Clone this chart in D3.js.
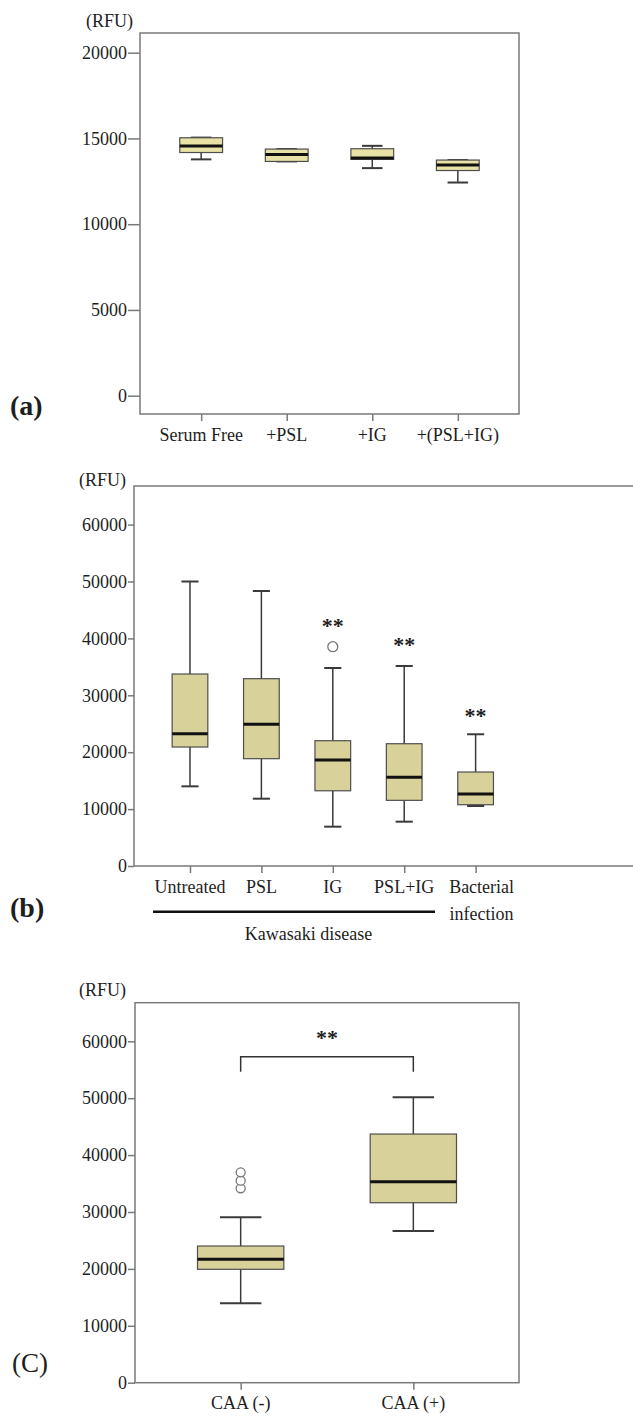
<!DOCTYPE html>
<html>
<head>
<meta charset="utf-8">
<script src="https://cdn.jsdelivr.net/npm/d3@7"></script>
<style>
body{margin:0;background:#fff}
text{font-family:"Liberation Serif","Times New Roman",serif;fill:#1e1e1e}
</style>
</head>
<body>
<svg id="svg" width="633" height="1416"></svg>
<script>
// ---- panel (a)
let catsA = ["Serum Free", "+PSL", "+IG", "+(PSL+IG)"]
let lowA  = [13780, 13660, 13270, 12430]
let q1A   = [14180, 13660, 13780, 13130]
let medA  = [14560, 14070, 13860, 13450]
let q3A   = [15040, 14380, 14400, 13740]
let highA = [15050, 14380, 14570, 13740]
let ticksA = [0, 5000, 10000, 15000, 20000]

// ---- panel (b)
let catsB = ["Untreated", "PSL", "IG", "PSL+IG", "Bacterial\ninfection"]
let lowB  = [14000, 11830, 6910, 7790, 10540]
let q1B   = [20910, 18860, 13220, 11540, 10770]
let medB  = [23250, 24900, 18630, 15590, 12650]
let q3B   = [33740, 32920, 22020, 21490, 16520]
let highB = [50000, 48330, 34800, 35150, 23150]
let outlierCatB = ["IG"]
let outlierValB = [38540]
let starCatB = ["IG", "PSL+IG", "Bacterial\ninfection"]
let starValB = [42700, 39420, 26890]
let ticksB = [0, 10000, 20000, 30000, 40000, 50000, 60000]

// ---- panel (c)
let catsC = ["CAA (-)", "CAA (+)"]
let lowC  = [13950, 26650]
let q1C   = [19930, 31630]
let medC  = [21680, 35330]
let q3C   = [24020, 43700]
let highC = [29070, 50170]
let outlierCatC = ["CAA (-)", "CAA (-)", "CAA (-)"]
let outlierValC = [34170, 35500, 36980]
let bracketC = [54660, 57300]
let starValC = 61110
let ticksC = [0, 10000, 20000, 30000, 40000, 50000, 60000]

let frameColor = "#7a7a7a"
let svg = d3.select("#svg")

function drawBoxes(g, x, y, cats, low, q1, med, q3, high, fill){
    let bw = x.step() * 0.5
    let cw = bw * 0.48
    g.append("g").selectAll("line")
    .data(cats).enter().append("line")
    .attr("x1", function(d){ return x(d) })
    .attr("x2", function(d){ return x(d) })
    .attr("y1", function(d, i){ return y(low[i]) })
    .attr("y2", function(d, i){ return y(high[i]) })
    .attr("stroke", "#3a3a3a").attr("stroke-width", 1.5)

    // whisker caps
    g.append("g").selectAll("line")
    .data(cats.concat(cats)).enter().append("line")
    .attr("x1", function(d){ return x(d) - cw / 2 })
    .attr("x2", function(d){ return x(d) + cw / 2 })
    .attr("y1", function(d, i){ return y(i < cats.length ? low[i] : high[i - cats.length]) })
    .attr("y2", function(d, i){ return y(i < cats.length ? low[i] : high[i - cats.length]) })
    .attr("stroke", "#3a3a3a").attr("stroke-width", 2)

    g.append("g").selectAll("rect")
    .data(cats).enter().append("rect")
    .attr("x", function(d){ return x(d) - bw / 2 })
    .attr("width", bw)
    .attr("y", function(d, i){ return y(q3[i]) })
    .attr("height", function(d, i){ return y(q1[i]) - y(q3[i]) })
    .attr("fill", fill).attr("stroke", "#4e4e4e").attr("stroke-width", 1.2)

    g.append("g").selectAll("line")
    .data(cats).enter().append("line")
    .attr("x1", function(d){ return x(d) - bw / 2 })
    .attr("x2", function(d){ return x(d) + bw / 2 })
    .attr("y1", function(d, i){ return y(med[i]) })
    .attr("y2", function(d, i){ return y(med[i]) })
    .attr("stroke", "#111").attr("stroke-width", 3)
}

function drawYAxis(g, y, left, ticks, size){
    let ax = g.append("g")
    .attr("transform", "translate(" + left + ",0)")
    .call(d3.axisLeft(y).tickValues(ticks).tickSize(size).tickPadding(1).tickFormat(d3.format("d")))
    ax.select(".domain").remove()
    ax.selectAll("line").attr("stroke", frameColor).attr("stroke-width", 1.5)
    ax.selectAll("text").style("font-size", "18px").style("font-family", "Liberation Serif").attr("fill", "#1e1e1e")
}

function drawXAxis(g, x, bottom, labelY){
    let ax = g.append("g")
    .attr("transform", "translate(0," + bottom + ")")
    .call(d3.axisBottom(x).tickSize(7).tickFormat(""))
    ax.select(".domain").remove()
    ax.selectAll("line").attr("stroke", frameColor).attr("stroke-width", 1.5)
    return ax
}

function drawLabels(g, x, cats, baseY, dx){
    g.append("g").selectAll("text")
    .data(cats).enter().append("text")
    .attr("text-anchor", "middle")
    .style("font-size", "18px")
    .each(function(d){
        let t = d3.select(this)
        d.split("\n").forEach(function(part, k){
            t.append("tspan").attr("x", x(d) + (d.indexOf("\n") >= 0 ? dx : 0)).attr("y", baseY + k * 27).text(part)
        })
    })
}

// =========== (a)
let yA = d3.scaleLinear().domain([0, 20000]).range([395.7, 52.7])
let xA = d3.scalePoint().domain(catsA).range([140, 519]).padding(0.715)
let gA = svg.append("g")
gA.append("rect").attr("x", 140).attr("y", 33).attr("width", 379).attr("height", 381)
.attr("fill", "none").attr("stroke", frameColor).attr("stroke-width", 1.5)
drawYAxis(gA, yA, 140, ticksA, 12)
drawXAxis(gA, xA, 414)
drawLabels(gA, xA, catsA, 441, 0)
drawBoxes(gA, xA, yA, catsA, lowA, q1A, medA, q3A, highA, "#e8e2a6")
gA.append("text").attr("x", 133).attr("y", 27).attr("text-anchor", "end").style("font-size", "18px").text("(RFU)")
gA.append("text").attr("x", 10).attr("y", 415).style("font-size", "28px").style("font-weight", "bold").text("(a)")

// =========== (b)
let yB = d3.scaleLinear().domain([0, 60000]).range([866, 524.6])
let xB = d3.scalePoint().domain(catsB).range([134, 531.6]).padding(0.784)
let gB = svg.append("g")
gB.append("path").attr("d", "M633,486H134V866H633")
.attr("fill", "none").attr("stroke", frameColor).attr("stroke-width", 1.5)
drawYAxis(gB, yB, 134, ticksB, 6)
drawXAxis(gB, xB, 866)
drawLabels(gB, xB, catsB, 893, 6)
drawBoxes(gB, xB, yB, catsB, lowB, q1B, medB, q3B, highB, "#d8d19a")
gB.append("g").selectAll("circle")
.data(outlierCatB).enter().append("circle")
.attr("cx", function(d){ return xB(d) })
.attr("cy", function(d, i){ return yB(outlierValB[i]) })
.attr("r", 5).attr("fill", "#fff").attr("stroke", "#777").attr("stroke-width", 1.3)
gB.append("g").selectAll("text")
.data(starCatB).enter().append("text")
.attr("x", function(d){ return xB(d) })
.attr("y", function(d, i){ return yB(starValB[i]) + 10 })
.attr("text-anchor", "middle").style("font-size", "22px").style("font-weight", "bold")
.text("**")
gB.append("line").attr("x1", 153).attr("x2", 435).attr("y1", 911.7).attr("y2", 911.7)
.attr("stroke", "#111").attr("stroke-width", 2.5)
gB.append("text").attr("x", 308.5).attr("y", 940).attr("text-anchor", "middle").style("font-size", "18px").text("Kawasaki disease")
gB.append("text").attr("x", 126).attr("y", 486).attr("text-anchor", "end").style("font-size", "18px").text("(RFU)")
gB.append("text").attr("x", 10).attr("y", 917).style("font-size", "28px").style("font-weight", "bold").text("(b)")

// =========== (c)
let yC = d3.scaleLinear().domain([0, 60000]).range([1382.7, 1041.3])
let xC = d3.scalePoint().domain(catsC).range([135, 519]).padding(0.612)
let gC = svg.append("g")
gC.append("rect").attr("x", 135).attr("y", 1002.7).attr("width", 384).attr("height", 380)
.attr("fill", "none").attr("stroke", frameColor).attr("stroke-width", 1.5)
drawYAxis(gC, yC, 135, ticksC, 7)
drawXAxis(gC, xC, 1382.7)
drawLabels(gC, xC, catsC, 1409, 0)
drawBoxes(gC, xC, yC, catsC, lowC, q1C, medC, q3C, highC, "#d8d19a")
gC.append("g").selectAll("circle")
.data(outlierCatC).enter().append("circle")
.attr("cx", function(d){ return xC(d) })
.attr("cy", function(d, i){ return yC(outlierValC[i]) })
.attr("r", 4.5).attr("fill", "#fff").attr("stroke", "#777").attr("stroke-width", 1.3)
gC.append("path")
.attr("d", "M" + xC(catsC[0]) + "," + yC(bracketC[0]) + "V" + yC(bracketC[1]) + "H" + xC(catsC[1]) + "V" + yC(bracketC[0]))
.attr("fill", "none").attr("stroke", "#333").attr("stroke-width", 1.5)
gC.append("text").attr("x", (xC(catsC[0]) + xC(catsC[1])) / 2).attr("y", yC(starValC) + 10)
.attr("text-anchor", "middle").style("font-size", "22px").style("font-weight", "bold").text("**")
gC.append("text").attr("x", 126).attr("y", 996).attr("text-anchor", "end").style("font-size", "18px").text("(RFU)")
gC.append("text").attr("x", 12).attr("y", 1372).style("font-size", "27px").text("(C)")
</script>
</body>
</html>
